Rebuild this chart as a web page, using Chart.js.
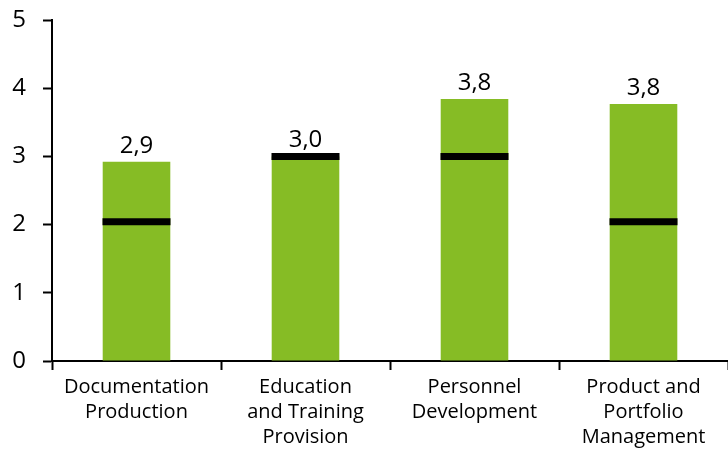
<!DOCTYPE html>
<html>
<head>
<meta charset="utf-8">
<script src="https://cdn.jsdelivr.net/npm/chart.js@4"></script>
<style>
    body { margin: 0; background: #fff; }
</style>
</head>
<body>
<canvas id="chart" width="728" height="453"></canvas>
<script>
// Chart data
const categories = [
    ['Documentation', 'Production'],
    ['Education', 'and Training', 'Provision'],
    ['Personnel', 'Development'],
    ['Product and', 'Portfolio', 'Management']
];
const barValues = [2.92, 3.0, 3.84, 3.77];
const markerValues = [2.04, 3.0, 3.0, 2.04];
const yTicks = [0, 1, 2, 3, 4, 5];

const fontFamily = "'Open Sans', sans-serif";

// Value labels above bars, with comma decimals
const valueLabels = {
    id: 'valueLabels',
    afterDatasetsDraw(chart) {
        const ctx = chart.ctx;
        const meta = chart.getDatasetMeta(1);
        ctx.save();
        ctx.font = '24px ' + fontFamily;
        ctx.fillStyle = '#000';
        ctx.textAlign = 'center';
        ctx.textBaseline = 'alphabetic';
        meta.data.forEach((bar, i) => {
            const text = barValues[i].toFixed(1).replace('.', ',');
            ctx.fillText(text, bar.x, bar.y - 9);
        });
        ctx.restore();
    }
};

new Chart(document.getElementById('chart').getContext('2d'), {
    data: {
        labels: categories,
        datasets: [
            {
                type: 'line',
                data: markerValues,
                showLine: false,
                pointStyle: 'line',
                pointRadius: 34,
                pointHoverRadius: 34,
                borderColor: '#000',
                pointBorderWidth: 7,
                pointHoverBorderWidth: 7,
                clip: false,
                order: 0
            },
            {
                type: 'bar',
                data: barValues,
                backgroundColor: '#86BC25',
                barPercentage: 0.4,
                categoryPercentage: 1.0,
                order: 1
            }
        ]
    },
    options: {
        responsive: false,
        animation: false,
        layout: {
            autoPadding: false,
            padding: { top: 20, right: -4, bottom: 0, left: 0 }
        },
        plugins: {
            legend: { display: false },
            tooltip: { enabled: false }
        },
        scales: {
            x: {
                offset: true,
                grid: {
                    offset: true,
                    drawOnChartArea: false,
                    drawTicks: true,
                    tickLength: 9,
                    tickColor: '#000',
                    tickWidth: 2
                },
                border: { color: '#000', width: 2 },
                ticks: {
                    color: '#000',
                    padding: 5,
                    maxRotation: 0,
                    autoSkip: false,
                    font: { family: fontFamily, size: 20, lineHeight: 1.25 }
                },
                afterFit: (axis) => {
                    axis.height = 92;
                    axis.paddingLeft = 0;
                    axis.paddingRight = 0;
                }
            },
            y: {
                min: 0,
                max: 5,
                afterBuildTicks: (axis) => { axis.ticks = yTicks.map(v => ({ value: v })); },
                grid: {
                    drawOnChartArea: false,
                    drawTicks: true,
                    tickLength: 9,
                    tickColor: '#000',
                    tickWidth: 2
                },
                border: { color: '#000', width: 2 },
                ticks: {
                    color: '#000',
                    padding: 17,
                    font: { family: fontFamily, size: 24 }
                },
                afterFit: (axis) => {
                    axis.width = 52;
                    axis.paddingTop = 0;
                    axis.paddingBottom = 0;
                }
            }
        }
    },
    plugins: [valueLabels]
});
</script>
</body>
</html>
